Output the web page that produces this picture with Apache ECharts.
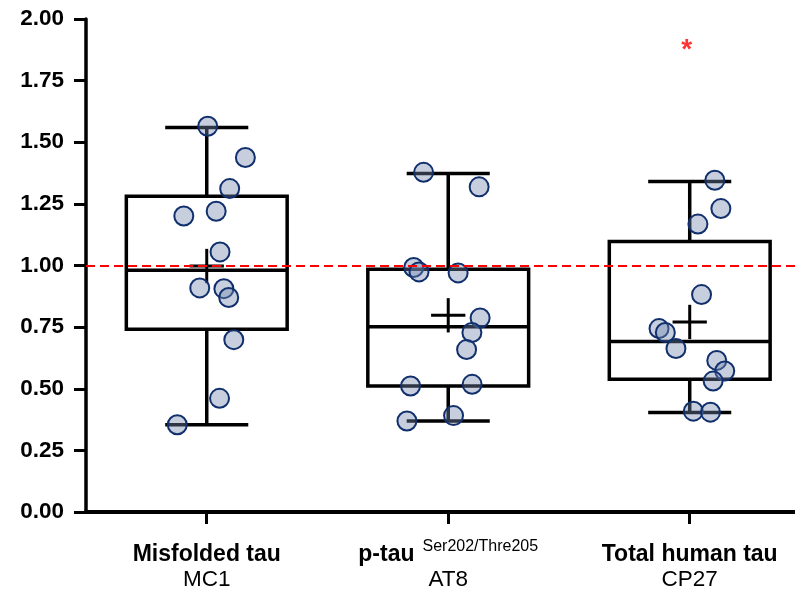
<!DOCTYPE html>
<html>
<head>
<meta charset="utf-8">
<script src="https://cdn.jsdelivr.net/npm/echarts@6/dist/echarts.min.js"></script>
<style>
  html, body { margin: 0; padding: 0; background: #ffffff; }
  #chart { width: 795px; height: 596px; }
</style>
</head>
<body>
<div id="chart"></div>
<script>
// Groups on the x axis (positions 1, 2, 3)
const categories = ['Misfolded tau', 'p-tau', 'Total human tau'];
const antibodies = ['MC1', 'AT8', 'CP27'];
const superscripts = ['', 'Ser202/Thre205', ''];
const groupPositions = [1, 2, 3];

// Box statistics per group: [min, Q1, median, Q3, max]
const boxStats = [
  [0.354, 0.741, 0.981, 1.281, 1.560],
  [0.369, 0.511, 0.752, 0.985, 1.373],
  [0.404, 0.539, 0.692, 1.097, 1.341]
];
// Group means (drawn as a cross)
const means = [0.998, 0.798, 0.771];

// Individual values per group and their horizontal jitter (in group units)
const mc1Values = [1.565, 1.438, 1.312, 1.201, 1.220, 1.055, 0.909, 0.906, 0.870, 0.699, 0.461, 0.354];
const mc1Jitter = [0.004, 0.160, 0.095, -0.095, 0.039, 0.055, -0.029, 0.071, 0.091, 0.112, 0.053, -0.122];
const at8Values = [1.378, 1.319, 0.992, 0.974, 0.970, 0.787, 0.728, 0.659, 0.511, 0.518, 0.391, 0.369];
const at8Jitter = [-0.102, 0.128, -0.143, -0.121, 0.041, 0.132, 0.098, 0.076, -0.156, 0.099, 0.022, -0.171];
const cp27Values = [1.346, 1.231, 1.168, 0.882, 0.744, 0.728, 0.663, 0.615, 0.572, 0.531, 0.409, 0.405];
const cp27Jitter = [0.104, 0.129, 0.034, 0.049, -0.127, -0.101, -0.057, 0.112, 0.145, 0.097, 0.015, 0.086];

// Y axis range and step
const yMin = 0, yMax = 2, yStep = 0.25;
// Control level (dashed line)
const controlLevel = 1.0;
// Significance marker: group index, horizontal position and height
const starGroups = [2];
const starPositions = [2.988];
const starLevels = [1.894];

const groupValues = [mc1Values, at8Values, cp27Values];
const groupJitter = [mc1Jitter, at8Jitter, cp27Jitter];

const pointData = [];
groupValues.forEach((vals, g) => {
  vals.forEach((v, i) => pointData.push([groupPositions[g] + groupJitter[g][i], v]));
});

const boxData = boxStats.map((s, g) => [groupPositions[g], s[0], s[1], s[2], s[3], s[4], means[g]]);

const BLACK = '#000000';
const FONT = 'Liberation Sans, Arial, sans-serif';

function renderBox(params, api) {
  const cx = api.value(0);
  const unit = api.size([1, 0])[0];
  const halfBox = unit * 0.333;
  const halfCap = unit * 0.172;
  const halfCross = unit * 0.071;
  const pMin = api.coord([cx, api.value(1)]);
  const pQ1 = api.coord([cx, api.value(2)]);
  const pMed = api.coord([cx, api.value(3)]);
  const pQ3 = api.coord([cx, api.value(4)]);
  const pMax = api.coord([cx, api.value(5)]);
  const pMean = api.coord([cx, api.value(6)]);
  const x = pMed[0];
  const lineStyle = { stroke: BLACK, lineWidth: 3.5, fill: null };
  const line = (x1, y1, x2, y2, w) => ({
    type: 'line',
    shape: { x1, y1, x2, y2 },
    style: Object.assign({}, lineStyle, w ? { lineWidth: w } : {})
  });
  return {
    type: 'group',
    children: [
      { type: 'rect', shape: { x: x - halfBox, y: pQ3[1], width: 2 * halfBox, height: pQ1[1] - pQ3[1] }, style: lineStyle },
      line(x - halfBox, pMed[1], x + halfBox, pMed[1]),
      line(x, pQ3[1], x, pMax[1]),
      line(x, pQ1[1], x, pMin[1]),
      line(x - halfCap, pMax[1], x + halfCap, pMax[1]),
      line(x - halfCap, pMin[1], x + halfCap, pMin[1]),
      line(x - halfCross, pMean[1], x + halfCross, pMean[1], 3),
      line(x, pMean[1] - halfCross, x, pMean[1] + halfCross, 3)
    ]
  };
}

const chart = echarts.init(document.getElementById('chart'), null, { renderer: 'canvas' });

chart.setOption({
  backgroundColor: '#ffffff',
  animation: false,
  grid: { left: 86, top: 19, right: 0, height: 493, containLabel: false },
  xAxis: {
    type: 'value',
    min: 0.5,
    max: 3.436,
    axisLine: { show: true, onZero: false, lineStyle: { color: BLACK, width: 4 } },
    axisTick: { show: true, customValues: groupPositions, length: 12, lineStyle: { color: BLACK, width: 3 } },
    axisLabel: {
      customValues: groupPositions,
      margin: 26,
      color: BLACK,
      formatter: (value) => {
        const idx = groupPositions.indexOf(Math.round(value));
        if (idx < 0) return '';
        const sup = superscripts[idx] ? '{g| }{s|' + superscripts[idx] + '}' : '';
        return '{b|' + categories[idx] + '}' + sup + '\n{n|' + antibodies[idx] + '}';
      },
      rich: {
        b: { fontFamily: FONT, fontWeight: 'bold', fontSize: 23, color: BLACK, lineHeight: 28, verticalAlign: 'bottom' },
        g: { fontFamily: FONT, fontSize: 16, lineHeight: 28, width: 8 },
        s: { fontFamily: FONT, fontSize: 16, color: BLACK, lineHeight: 20, verticalAlign: 'top', padding: [1, 0, 0, 0] },
        n: { fontFamily: FONT, fontSize: 22.5, color: BLACK, lineHeight: 28 }
      }
    },
    splitLine: { show: false }
  },
  yAxis: {
    type: 'value',
    min: yMin,
    max: yMax,
    interval: yStep,
    axisLine: { show: true, lineStyle: { color: BLACK, width: 3.5 } },
    axisTick: { show: true, length: 12, lineStyle: { color: BLACK, width: 3 } },
    axisLabel: {
      margin: 22,
      color: BLACK,
      fontFamily: FONT,
      fontWeight: 'bold',
      fontSize: 22.5,
      formatter: v => v.toFixed(2)
    },
    splitLine: { show: false }
  },
  series: [
    {
      type: 'custom',
      name: 'boxes',
      renderItem: renderBox,
      data: boxData,
      z: 2,
      markLine: {
        silent: true,
        symbol: ['none', 'none'],
        label: { show: false },
        lineStyle: { color: '#ff0000', type: [9, 5], width: 2 },
        data: [{ yAxis: controlLevel }]
      }
    },
    {
      type: 'scatter',
      name: 'values',
      data: pointData,
      symbol: 'circle',
      symbolSize: 19,
      z: 3,
      itemStyle: { color: 'rgba(115,135,175,0.4)', borderColor: '#102f6c', borderWidth: 2, opacity: 1 }
    },
    {
      type: 'scatter',
      name: 'significance',
      data: starGroups.map((g, i) => [starPositions[i], starLevels[i]]),
      symbolSize: 0,
      z: 4,
      label: {
        show: true,
        position: 'inside',
        formatter: '*',
        color: '#ff0000',
        fontFamily: FONT,
        fontWeight: 'bold',
        fontSize: 28,
        offset: [0, 5]
      }
    }
  ]
});
</script>
</body>
</html>
